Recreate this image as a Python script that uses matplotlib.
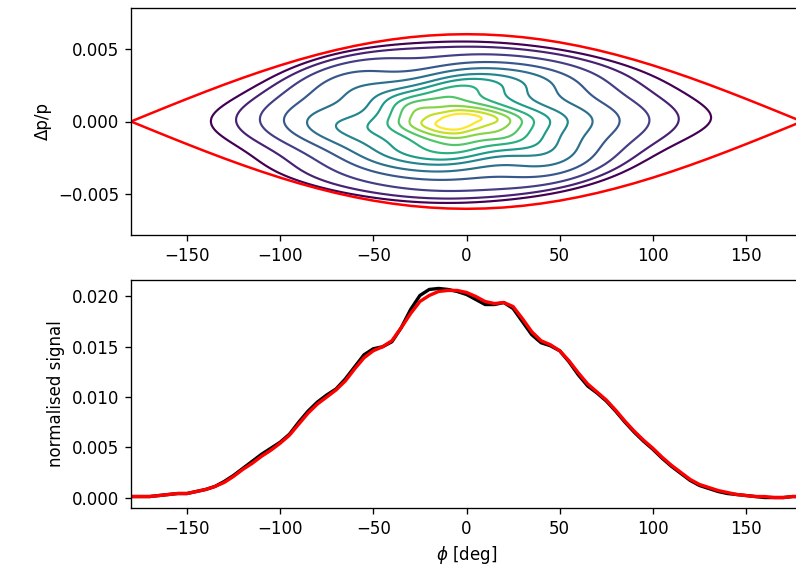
import numpy as np
import matplotlib
matplotlib.use("Agg")
import matplotlib.pyplot as plt

# ---------------- data ----------------
# separatrix (upper branch), phi in deg, dp/p
sep_phi = [0, 10, 20, 30, 40, 50, 60, 70, 80, 90, 100, 110, 120, 130, 140, 150, 160, 170, 180]
sep_dp = [0.00600, 0.005977, 0.005909, 0.005796, 0.005638, 0.005438, 0.005196, 0.004915,
          0.004596, 0.004243, 0.003857, 0.003441, 0.003000, 0.002536, 0.002052, 0.001553,
          0.001042, 0.000523, 0.0]

# contour level positions in normalised action J (outer -> inner)
level_J = [0.86, 0.76, 0.63, 0.48, 0.35, 0.24, 0.17, 0.11, 0.07, 0.04, 0.02, 0.008]
# distortions of the contours: harmonic, amplitude, spiral twist, phase, radius, width
dist_m = [2, 3, 4, 6, 8]
dist_a = [0.38, 0.14, 0.11, 0.08, 0.04]
dist_q = [14.0, 8.0, 5.0, 3.0, 2.0]
dist_p = [0.5, 1.0, 2.0, 0.3, 1.7]
dist_rc = [0.0, 0.4, 0.45, 0.5, 0.5]
dist_rw = [0.32, 0.32, 0.32, 0.32, 0.32]
centre_phi = -5.0

# longitudinal profiles
prof_phi = list(range(-180, 181, 5))
prof_red = [0.0001, 0.0001, 0.0001, 0.0002, 0.0003, 0.0004, 0.0004, 0.0006, 0.0008, 0.0011,
            0.0015, 0.0021, 0.0028, 0.0034, 0.0041, 0.0047, 0.0054, 0.0062, 0.0073, 0.0084,
            0.0093, 0.0100, 0.0107, 0.0116, 0.0128, 0.0139, 0.0146, 0.0150, 0.0156, 0.0169,
            0.0183, 0.0195, 0.0201, 0.0205, 0.0206, 0.0206, 0.0204, 0.0200, 0.0195, 0.0193,
            0.0194, 0.0190, 0.0178, 0.0165, 0.0156, 0.0152, 0.0146, 0.0136, 0.0124, 0.0113,
            0.0105, 0.0097, 0.0087, 0.0076, 0.0066, 0.0057, 0.0049, 0.0040, 0.0032, 0.0025,
            0.0018, 0.0013, 0.0010, 0.0007, 0.0005, 0.0003, 0.0002, 0.0001, 0.0001, 0.0000,
            0.0000, 0.0001, 0.0001]
prof_black = [0.0001, 0.0001, 0.0001, 0.0002, 0.0003, 0.0004, 0.0004, 0.0006, 0.0008, 0.0011,
              0.0016, 0.0022, 0.0029, 0.0036, 0.0043, 0.0049, 0.0055, 0.0063, 0.0075, 0.0086,
              0.0095, 0.0102, 0.0108, 0.0118, 0.0130, 0.0142, 0.0148, 0.0150, 0.0155, 0.0169,
              0.0187, 0.0201, 0.0207, 0.0208, 0.0207, 0.0205, 0.0202, 0.0197, 0.0192, 0.0192,
              0.0194, 0.0188, 0.0175, 0.0162, 0.0154, 0.0151, 0.0146, 0.0135, 0.0122, 0.0111,
              0.0104, 0.0096, 0.0086, 0.0075, 0.0065, 0.0056, 0.0048, 0.0039, 0.0031, 0.0024,
              0.0017, 0.0012, 0.0009, 0.0006, 0.0004, 0.0003, 0.0002, 0.0001, 0.0000, 0.0000,
              0.0000, 0.0001, 0.0001]

# ---------------- figure ----------------
dpi = 120
fig = plt.figure(figsize=(796 / dpi, 571 / dpi), dpi=dpi)
ax1 = fig.add_axes([131 / 796, 1 - 235 / 571, 671 / 796, 227 / 571])
ax2 = fig.add_axes([131 / 796, 1 - 508 / 571, 671 / 796, 228 / 571])

# phase-space density field built from the contour positions
phi = np.linspace(-180, 180, 721)
dp = np.linspace(-0.0079, 0.0079, 481)
P, D = np.meshgrid(phi, dp)
s = np.sin(np.radians(P - centre_phi) / 2)
w = D / sep_dp[0]
J = s ** 2 + w ** 2
r = np.sqrt(J)
th = np.arctan2(w, s)
pert = np.zeros_like(J)
for m, a, q, p, rc, rw in zip(dist_m, dist_a, dist_q, dist_p, dist_rc, dist_rw):
    env = 0.1 + 0.9 * np.exp(-((r - rc) / rw) ** 2)
    pert += a * env * np.cos(m * th + q * r + p)
Jp = J * (1 + pert)
n = len(level_J)
xs = np.array([0.0] + level_J[::-1] + [1.0])
ys = np.array([n + 0.8] + list(range(n, 0, -1)) + [0.0], dtype=float)
F = np.interp(Jp, xs, ys)
F[J >= 1] = 0
levels = np.arange(1, n + 1, dtype=float)
ax1.contour(P, D, F, levels=levels, cmap="viridis", linewidths=1.3)

sp = np.array(sep_phi)
sd = np.array(sep_dp)
up_phi = np.concatenate([-sp[::-1], sp[1:]])
up_dp = np.concatenate([sd[::-1], sd[1:]])
ax1.plot(up_phi, up_dp, color="r", lw=1.5)
ax1.plot(up_phi, -up_dp, color="r", lw=1.5)
ax1.set_xlim(-180, 180)
ax1.set_ylim(-0.0078, 0.0078)
ax1.set_yticks([-0.005, 0.0, 0.005])
ax1.set_ylabel("\u0394p/p")

ax2.plot(prof_phi, prof_black, color="k", lw=2.0)
ax2.plot(prof_phi, prof_red, color="r", lw=2.0)
ax2.set_xlim(-180, 180)
ax2.set_ylim(-0.00104, 0.02164)
ax2.set_yticks([0.0, 0.005, 0.01, 0.015, 0.02])
ax2.set_xlabel(r"$\phi$ [deg]")
ax2.set_ylabel("normalised signal")

fig.savefig("out.png", dpi=dpi)
